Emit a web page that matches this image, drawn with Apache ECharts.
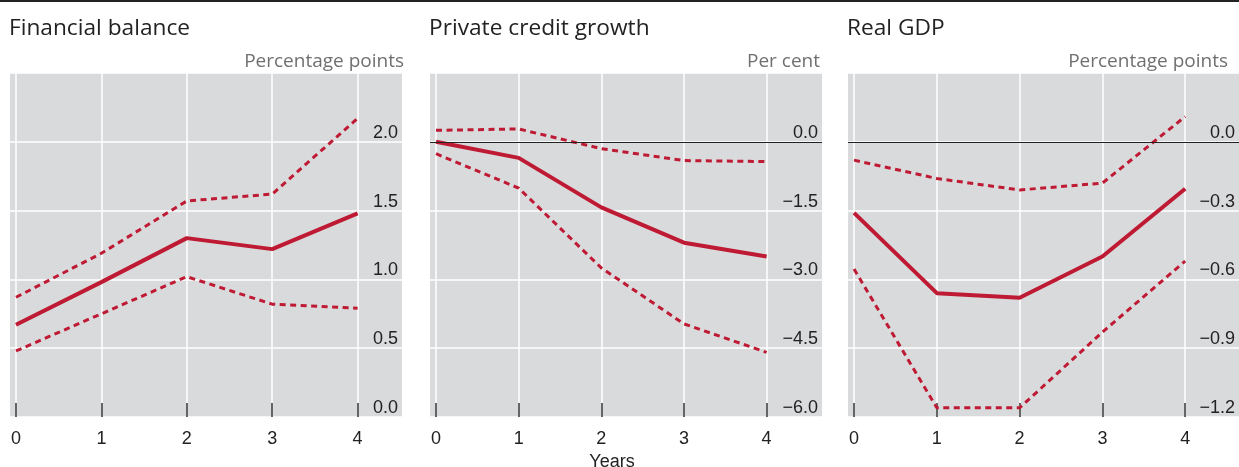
<!DOCTYPE html>
<html>
<head>
<meta charset="utf-8">
<style>
  html, body { margin: 0; padding: 0; background: #fff; }
  #chart { width: 1239px; height: 467px; }
</style>
<script src="https://cdn.jsdelivr.net/npm/echarts@6/dist/echarts.min.js"></script>
</head>
<body>
<div id="chart"></div>
<script>
  // years after the shock
  const years = [0, 1, 2, 3, 4]

  // Financial balance, percentage points
  const fbCentral = [0.67, 0.98, 1.30, 1.22, 1.48]
  const fbUpper = [0.87, 1.19, 1.57, 1.62, 2.17]
  const fbLower = [0.48, 0.75, 1.02, 0.82, 0.79]

  // Private credit growth, per cent
  const pcCentral = [0, -0.35, -1.43, -2.2, -2.5]
  const pcUpper = [0.25, 0.28, -0.15, -0.41, -0.43]
  const pcLower = [-0.26, -1.01, -2.75, -3.97, -4.59]

  // Real GDP, percentage points
  const gdpCentral = [-0.31, -0.66, -0.68, -0.50, -0.205]
  const gdpUpper = [-0.08, -0.16, -0.21, -0.18, 0.11]
  const gdpLower = [-0.555, -1.16, -1.16, -0.83, -0.52]

  const titles = ['Financial balance', 'Private credit growth', 'Real GDP']
  const units = ['Percentage points', 'Per cent', 'Percentage points']
  const yTicks = [
    [0, 0.5, 1, 1.5, 2],
    [-6, -4.5, -3, -1.5, 0],
    [-1.2, -0.9, -0.6, -0.3, 0]
  ]

  const RED = '#bf1a34'
  const GREY = '#d9dadc'
  const tickFont = 'Liberation Sans, Arial, sans-serif'
  const titleFont = 'Open Sans, Noto Sans, sans-serif'

  const zip = (ys) => years.map((x, i) => [x, ys[i]])

  const grids = [
    { left: 10, top: 73, width: 392, height: 344 },
    { left: 430, top: 73, width: 392, height: 344 },
    { left: 848, top: 73, width: 391, height: 344 }
  ]
  const xRange = [[-0.07, 4.52], [-0.073, 4.67], [-0.073, 4.65]]
  const yRange = [[0, 2.5, 0.5], [-6, 1.5, 1.5], [-1.2, 0.3, 0.3]]
  const unitRight = [835, 419, 11]

  function fmt(v) {
    const s = v.toFixed(1)
    return v < 0 ? '\u2212' + s.slice(1) : s
  }

  const chart = echarts.init(document.getElementById('chart'))

  const xAxis = grids.map((g, i) => ({
    type: 'value',
    gridIndex: i,
    min: xRange[i][0],
    max: xRange[i][1],
    axisLine: { show: false, onZero: false },
    axisTick: {
      show: true, inside: true, length: 14, customValues: years,
      lineStyle: { color: '#555', width: 1.8 }
    },
    axisLabel: {
      customValues: years, margin: 13,
      color: '#222', fontSize: 18, fontFamily: tickFont
    },
    splitLine: { show: true, lineStyle: { color: '#fff', width: 1.5 } },
    name: i === 1 ? 'Years' : '',
    nameLocation: 'middle',
    nameGap: 34,
    nameTextStyle: { color: '#222', fontSize: 18, fontFamily: tickFont, padding: [0, 28, 0, 0] }
  }))

  const yAxis = grids.map((g, i) => ({
    type: 'value',
    gridIndex: i,
    position: 'right',
    min: yRange[i][0],
    max: yRange[i][1],
    interval: yRange[i][2],
    axisLine: { show: false },
    axisTick: { show: false },
    axisLabel: {
      inside: true, margin: 4, verticalAlign: 'bottom',
      customValues: yTicks[i],
      formatter: fmt,
      color: '#222', fontSize: 18, fontFamily: tickFont
    },
    splitLine: { show: true, lineStyle: { color: '#fff', width: 1.5 } }
  }))

  function band(data, i, dashed) {
    return {
      type: 'line',
      xAxisIndex: i,
      yAxisIndex: i,
      data: zip(data),
      symbol: 'none',
      lineStyle: dashed
        ? { color: RED, width: 3, type: [6, 4.5] }
        : { color: RED, width: 4 },
      z: dashed ? 3 : 4
    }
  }

  const zeroLine = (i) => ({
    type: 'line',
    xAxisIndex: i,
    yAxisIndex: i,
    data: [],
    markLine: {
      silent: true,
      symbol: 'none',
      label: { show: false },
      lineStyle: { color: '#222', width: 1.2, type: 'solid' },
      data: [{ yAxis: 0 }]
    }
  })

  const series = [
    band(fbUpper, 0, true), band(fbLower, 0, true), band(fbCentral, 0, false),
    zeroLine(1),
    band(pcUpper, 1, true), band(pcLower, 1, true), band(pcCentral, 1, false),
    zeroLine(2),
    band(gdpUpper, 2, true), band(gdpLower, 2, true), band(gdpCentral, 2, false)
  ]

  const title = []
  grids.forEach((g, i) => {
    title.push({
      text: titles[i], left: g.left - 1, top: 17, padding: 0,
      textStyle: { color: '#222', fontSize: 22.7, fontWeight: 'normal', fontFamily: titleFont }
    })
    title.push({
      text: units[i], right: unitRight[i], top: 52, padding: 0,
      textStyle: { color: '#707070', fontSize: 19, fontWeight: 'normal', fontFamily: titleFont }
    })
  })

  chart.setOption({
    animation: false,
    title: title,
    grid: grids.map(g => Object.assign({
      show: true, backgroundColor: GREY, borderWidth: 0, outerBoundsMode: 'none'
    }, g)),
    xAxis: xAxis,
    yAxis: yAxis,
    series: series,
    graphic: [{
      type: 'line',
      shape: { x1: 0, y1: 1, x2: 1239, y2: 1 },
      style: { stroke: '#222', lineWidth: 2 }
    }]
  })
</script>
</body>
</html>
